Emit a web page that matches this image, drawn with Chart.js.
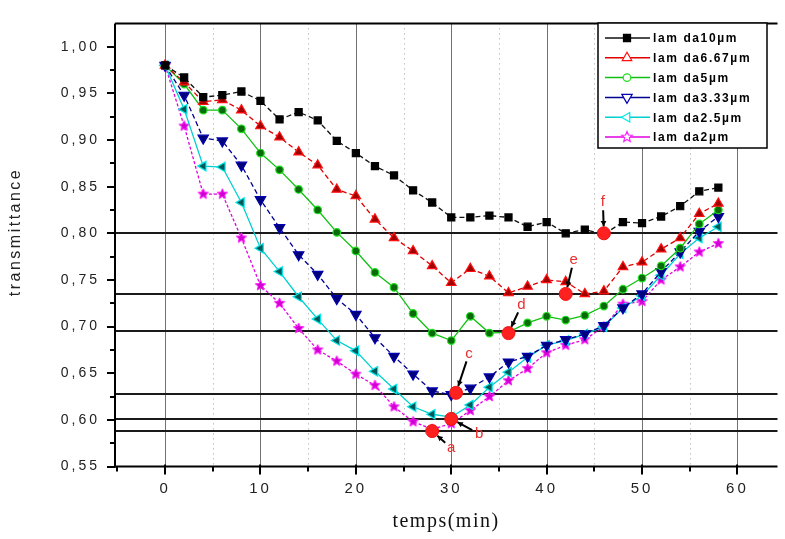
<!DOCTYPE html>
<html>
<head>
<meta charset="utf-8">
<script src="https://cdn.jsdelivr.net/npm/chart.js@4.4.1/dist/chart.umd.min.js"></script>
<style>
  html, body { margin: 0; padding: 0; background: #fff; }
  #wrap { width: 785px; height: 539px; }
</style>
</head>
<body>
<div id="wrap"><canvas id="chart" width="785" height="539"></canvas></div>
<script>
  // readings every 2 minutes
  const timeMin = [0, 2, 4, 6, 8, 10, 12, 14, 16, 18, 20, 22, 24, 26, 28, 30, 32, 34, 36, 38, 40, 42, 44, 46, 48, 50, 52, 54, 56, 58];

  const seriesNames = ['lam da10µm', 'lam da6.67µm', 'lam da5µm', 'lam da3.33µm', 'lam da2.5µm', 'lam da2µm'];

  const lambda10 = [0.980, 0.967, 0.946, 0.948, 0.952, 0.942, 0.922, 0.930, 0.921, 0.899, 0.886, 0.872, 0.862, 0.846, 0.833, 0.817,
    0.817, 0.819, 0.817, 0.807, 0.812, 0.800, 0.804, 0.799, 0.812, 0.811, 0.818, 0.829, 0.845, 0.849];
  const lambda667 = [0.980, 0.962, 0.941, 0.943, 0.932, 0.915, 0.903, 0.887, 0.873, 0.847, 0.840, 0.815, 0.795, 0.781, 0.765, 0.747,
    0.762, 0.754, 0.736, 0.743, 0.750, 0.748, 0.735, 0.738, 0.764, 0.769, 0.783, 0.795, 0.821, 0.832];
  const lambda5 = [0.980, 0.960, 0.932, 0.932, 0.912, 0.886, 0.868, 0.847, 0.825, 0.801, 0.781, 0.758, 0.742, 0.714, 0.693, 0.685,
    0.711, 0.693, 0.694, 0.704, 0.711, 0.707, 0.712, 0.722, 0.740, 0.752, 0.765, 0.784, 0.810, 0.825];
  const lambda333 = [0.980, 0.948, 0.902, 0.899, 0.873, 0.836, 0.806, 0.777, 0.756, 0.730, 0.713, 0.688, 0.668, 0.649, 0.631, 0.627,
    0.634, 0.646, 0.662, 0.668, 0.680, 0.686, 0.692, 0.701, 0.720, 0.735, 0.759, 0.780, 0.802, 0.818];
  const lambda25 = [0.980, 0.933, 0.872, 0.871, 0.833, 0.784, 0.759, 0.732, 0.708, 0.685, 0.674, 0.652, 0.633, 0.614, 0.606, 0.603,
    0.616, 0.635, 0.651, 0.667, 0.680, 0.685, 0.692, 0.700, 0.720, 0.733, 0.755, 0.778, 0.795, 0.807];
  const lambda2 = [0.980, 0.915, 0.842, 0.842, 0.795, 0.744, 0.725, 0.698, 0.675, 0.663, 0.649, 0.637, 0.614, 0.598, 0.590, 0.596,
    0.610, 0.625, 0.642, 0.655, 0.672, 0.680, 0.686, 0.700, 0.724, 0.727, 0.750, 0.764, 0.780, 0.789];

  // marked minima a..f and the horizontal levels through them
  const markLabels = ['a', 'b', 'c', 'd', 'e', 'f'];
  const markTime = [28, 30, 30.5, 36, 42, 46];
  const markValue = [0.588, 0.601, 0.629, 0.693, 0.735, 0.800];
  const levelValues = [0.588, 0.601, 0.628, 0.695, 0.735, 0.800];

  const xTicks = [0, 10, 20, 30, 40, 50, 60];
  const xMinorTicks = [-5, 5, 15, 25, 35, 45, 55];
  const yTicks = [0.55, 0.60, 0.65, 0.70, 0.75, 0.80, 0.85, 0.90, 0.95, 1.00];
  const yMinorTicks = [0.575, 0.625, 0.675, 0.725, 0.775, 0.825, 0.875, 0.925, 0.975];

  // label offsets (px) of the a..f annotations from their points
  const markOffsets = [[19, 17], [28, 15], [13, -39], [13, -28], [8, -34], [-1, -31]];

  const SANS = '"Liberation Sans", Arial, sans-serif';
  const SERIF = '"Liberation Serif", "Times New Roman", serif';

  function starPath(g, cx, cy, r) {
    g.beginPath();
    for (let i = 0; i < 10; i++) {
      const rr = i % 2 ? r * 0.45 : r;
      const ang = -Math.PI / 2 + i * Math.PI / 5;
      g.lineTo(cx + rr * Math.cos(ang), cy + rr * Math.sin(ang));
    }
    g.closePath();
  }

  function starImage(r, fill, stroke) {
    const c = document.createElement('canvas');
    const s = Math.ceil(r * 2 + 2);
    c.width = s;
    c.height = s;
    const g = c.getContext('2d');
    starPath(g, s / 2, s / 2, r);
    g.fillStyle = fill;
    g.fill();
    g.strokeStyle = stroke;
    g.lineWidth = 1;
    g.stroke();
    return c;
  }

  const styles = [
    { borderColor: '#111111', borderDash: [5, 3], pointStyle: 'rect', pointRadius: 5,
      pointBackgroundColor: '#000000', pointBorderColor: '#000000', legendFill: '#000000' },
    { borderColor: '#e00000', borderDash: [5, 3], pointStyle: 'triangle', pointRadius: 5.5,
      pointBackgroundColor: '#a00000', pointBorderColor: '#ff1010', legendFill: '#ffffff' },
    { borderColor: '#10c010', borderDash: [], pointStyle: 'circle', pointRadius: 3.8,
      pointBackgroundColor: '#0a6a0a', pointBorderColor: '#20e020', legendFill: '#ffffff' },
    { borderColor: '#000090', borderDash: [5, 3], pointStyle: 'triangle', pointRotation: 180, pointRadius: 6,
      pointBackgroundColor: '#00007a', pointBorderColor: '#0000b0', legendFill: '#ffffff' },
    { borderColor: '#00d0d0', borderDash: [], pointStyle: 'triangle', pointRotation: 270, pointRadius: 5.5,
      pointBackgroundColor: '#005858', pointBorderColor: '#00e8e8', legendFill: '#ffffff' },
    { borderColor: '#e000e0', borderDash: [3, 2], pointStyle: starImage(5.5, '#d000d0', '#ff20ff'), pointRadius: 5.5,
      pointBackgroundColor: '#d000d0', pointBorderColor: '#ff20ff', legendFill: '#ffffff', star: true },
  ];

  const values = [lambda10, lambda667, lambda5, lambda333, lambda25, lambda2];

  const datasets = values.map((vals, i) => Object.assign({
    label: seriesNames[i],
    data: timeMin.map((t, j) => ({ x: t, y: vals[j] })),
    borderWidth: 1.3,
    pointBorderWidth: 1.2,
    tension: 0,
    fill: false,
  }, styles[i]));

  datasets.push({
    label: 'marks',
    data: markTime.map((t, j) => ({ x: t, y: markValue[j] })),
    showLine: false,
    pointStyle: 'circle',
    pointRadius: 6.5,
    pointBackgroundColor: '#ff2020',
    pointBorderColor: '#f01010',
    order: -1,
  });

  function seg(ctx, x1, y1, x2, y2) {
    ctx.beginPath();
    ctx.moveTo(x1, y1);
    ctx.lineTo(x2, y2);
    ctx.stroke();
  }

  function arrow(ctx, x1, y1, x2, y2) {
    const ang = Math.atan2(y2 - y1, x2 - x1);
    seg(ctx, x1, y1, x2, y2);
    ctx.beginPath();
    ctx.moveTo(x2, y2);
    ctx.lineTo(x2 - 6 * Math.cos(ang - 0.5), y2 - 6 * Math.sin(ang - 0.5));
    ctx.lineTo(x2 - 6 * Math.cos(ang + 0.5), y2 - 6 * Math.sin(ang + 0.5));
    ctx.closePath();
    ctx.fill();
  }

  const framePlugin = {
    id: 'frame',
    beforeDraw(chart) {
      chart.ctx.letterSpacing = '3px';
    },
    beforeDatasetsDraw(chart) {
      const { ctx, chartArea: a, scales: { x, y } } = chart;
      ctx.save();
      ctx.letterSpacing = '0px';

      // dotted minor verticals
      ctx.strokeStyle = '#a0a0a0';
      ctx.lineWidth = 1;
      ctx.setLineDash([1, 4]);
      xMinorTicks.filter((v) => v > 0).forEach((v) => {
        const px = Math.round(x.getPixelForValue(v)) + 0.5;
        seg(ctx, px, a.top, px, a.bottom);
      });
      // solid major verticals
      ctx.setLineDash([]);
      ctx.strokeStyle = '#707070';
      xTicks.forEach((v) => {
        const px = Math.round(x.getPixelForValue(v)) + 0.5;
        seg(ctx, px, a.top, px, a.bottom);
      });

      // horizontal levels through the marked points
      ctx.strokeStyle = '#1a1a1a';
      ctx.lineWidth = 2;
      levelValues.forEach((v) => {
        const py = Math.round(y.getPixelForValue(v));
        seg(ctx, a.left, py, a.right, py);
      });

      // axes and frame
      ctx.strokeStyle = '#000';
      ctx.lineWidth = 2;
      seg(ctx, a.left, a.top, a.right, a.top);
      seg(ctx, a.left, a.top, a.left, a.bottom + 1);
      seg(ctx, a.left - 1, a.bottom, a.right, a.bottom);

      // ticks
      yTicks.forEach((v) => {
        const py = Math.round(y.getPixelForValue(v));
        seg(ctx, a.left - 8, py, a.left, py);
      });
      yMinorTicks.forEach((v) => {
        const py = Math.round(y.getPixelForValue(v));
        seg(ctx, a.left - 5, py, a.left, py);
      });
      xTicks.forEach((v) => {
        const px = Math.round(x.getPixelForValue(v));
        seg(ctx, px, a.bottom - 2, px, a.bottom + 8);
      });
      xMinorTicks.forEach((v) => {
        const px = Math.round(x.getPixelForValue(v));
        seg(ctx, px, a.bottom, px, a.bottom + 5);
      });
      ctx.restore();
    },
    afterDatasetsDraw(chart) {
      const { ctx, scales: { x, y } } = chart;
      ctx.save();
      ctx.letterSpacing = '0px';

      // a..f annotations
      ctx.font = '15px ' + SANS;
      ctx.textAlign = 'center';
      ctx.textBaseline = 'middle';
      markLabels.forEach((lab, i) => {
        const px = x.getPixelForValue(markTime[i]);
        const py = y.getPixelForValue(markValue[i]);
        const lx = px + markOffsets[i][0];
        const ly = py + markOffsets[i][1];
        const d = Math.hypot(px - lx, py - ly);
        const ux = (px - lx) / d;
        const uy = (py - ly) / d;
        ctx.strokeStyle = '#000';
        ctx.fillStyle = '#000';
        ctx.lineWidth = 2;
        arrow(ctx, lx + ux * 8, ly + uy * 8, px - ux * 7, py - uy * 7);
        ctx.fillStyle = '#e83030';
        ctx.fillText(lab, lx, ly);
      });

      // legend box
      const box = { left: 598, top: 23, right: 767, bottom: 148 };
      ctx.fillStyle = '#fff';
      ctx.fillRect(box.left, box.top, box.right - box.left, box.bottom - box.top);
      ctx.strokeStyle = '#000';
      ctx.lineWidth = 1.5;
      ctx.strokeRect(box.left, box.top, box.right - box.left, box.bottom - box.top);

      ctx.font = 'bold 12px ' + SANS;
      ctx.letterSpacing = '1.6px';
      ctx.textAlign = 'left';
      seriesNames.forEach((name, i) => {
        const st = styles[i];
        const ry = 38 + i * 19.8;
        ctx.strokeStyle = st.borderColor;
        ctx.lineWidth = 1.5;
        seg(ctx, 605, ry, 650, ry);
        ctx.fillStyle = st.legendFill;
        ctx.strokeStyle = st.pointBorderColor;
        ctx.lineWidth = 1.2;
        if (st.star) {
          starPath(ctx, 627, ry, 5.5);
          ctx.fill();
          ctx.stroke();
        } else {
          Chart.helpers.drawPoint(ctx, {
            pointStyle: st.pointStyle,
            rotation: st.pointRotation || 0,
            radius: st.pointRadius,
            borderWidth: 1.2,
          }, 627, ry);
        }
        ctx.fillStyle = '#000';
        ctx.fillText(name, 653, ry + 1);
      });
      ctx.restore();
    },
    afterDraw(chart) {
      const { ctx } = chart;
      ctx.save();
      ctx.fillStyle = '#222';
      ctx.textAlign = 'center';
      ctx.textBaseline = 'middle';
      ctx.font = '16px ' + SANS;
      ctx.letterSpacing = '2.5px';
      ctx.translate(16, 232);
      ctx.rotate(-Math.PI / 2);
      ctx.fillText('transmittance', 0, 0);
      ctx.restore();

      ctx.save();
      ctx.fillStyle = '#111';
      ctx.textAlign = 'center';
      ctx.textBaseline = 'middle';
      ctx.font = '20px ' + SERIF;
      ctx.letterSpacing = '1.5px';
      ctx.fillText('temps(min)', 446, 522);
      ctx.restore();
    },
  };

  new Chart(document.getElementById('chart'), {
    type: 'line',
    data: { datasets },
    options: {
      responsive: false,
      animation: false,
      layout: { padding: { top: 11, left: 0, right: 0, bottom: 0 } },
      plugins: { legend: { display: false }, tooltip: { enabled: false } },
      scales: {
        x: {
          type: 'linear',
          min: -5.25,
          max: 64.2,
          grid: { display: false, drawTicks: false },
          border: { display: false },
          afterBuildTicks: (axis) => { axis.ticks = xTicks.map((v) => ({ value: v })); },
          afterFit: (axis) => { axis.height = 72.5; },
          ticks: {
            autoSkip: false,
            maxRotation: 0,
            padding: 13.5,
            color: '#222',
            font: { family: SANS, size: 15 },
            callback: (v) => String(v),
          },
        },
        y: {
          min: 0.55,
          max: 1.025,
          grid: { display: false, drawTicks: false },
          border: { display: false },
          afterBuildTicks: (axis) => { axis.ticks = yTicks.map((v) => ({ value: v })); },
          afterFit: (axis) => { axis.width = 115; },
          ticks: {
            padding: 15,
            color: '#222',
            font: { family: SANS, size: 14 },
            callback: (v) => v.toFixed(2).replace('.', ','),
          },
        },
      },
    },
    plugins: [framePlugin],
  });
</script>
</body>
</html>
